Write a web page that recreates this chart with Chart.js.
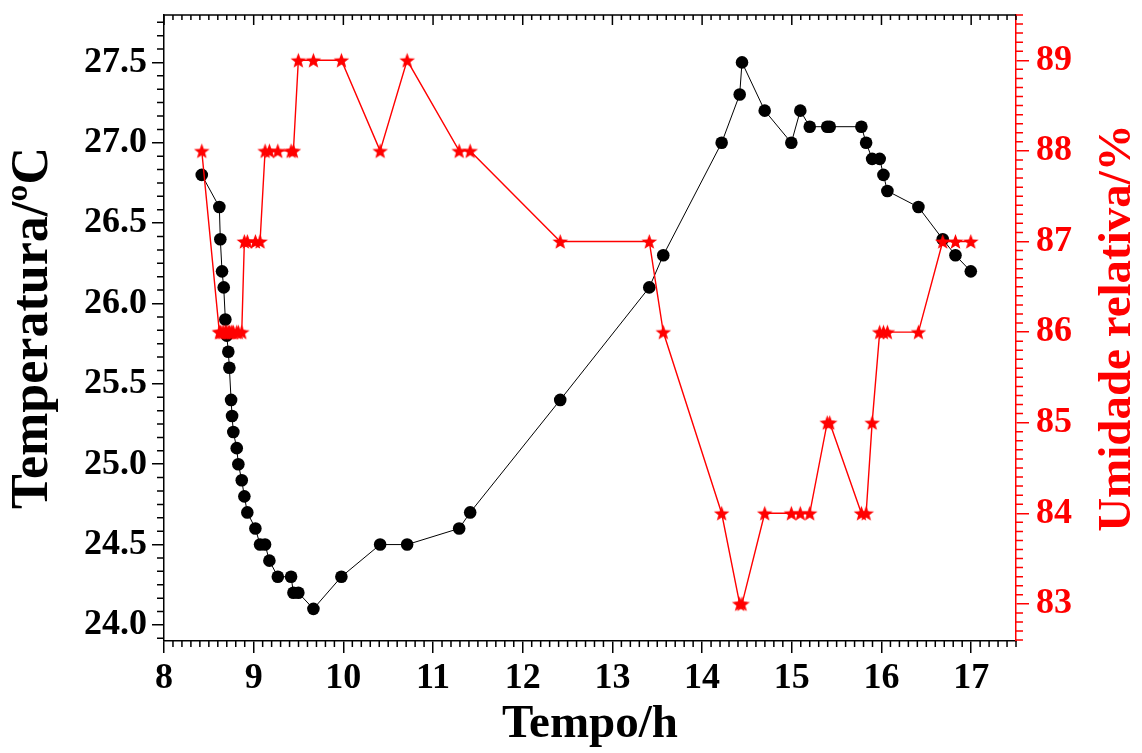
<!DOCTYPE html>
<html><head><meta charset="utf-8">
<script src="https://cdn.jsdelivr.net/npm/chart.js@4.4.1/dist/chart.umd.min.js"></script>
<style>html,body{margin:0;padding:0;background:#fff}canvas{display:block}</style>
</head><body>
<canvas id="c" width="1142" height="753"></canvas>
<script>
// ---- data ----
const timeH = [8.421, 8.617, 8.628, 8.647, 8.666, 8.684, 8.700, 8.717, 8.729, 8.748,
  8.759, 8.773, 8.811, 8.829, 8.867, 8.896, 8.929, 9.019, 9.071, 9.127,
  9.175, 9.269, 9.417, 9.443, 9.498, 9.666, 9.978, 10.41, 10.711, 11.291,
  11.414, 12.418, 13.411, 13.567, 14.218, 14.419, 14.445, 14.698, 14.995, 15.095,
  15.200, 15.395, 15.423, 15.776, 15.829, 15.896, 15.980, 16.022, 16.066, 16.412,
  16.683, 16.825, 16.996];
const temperature = [26.8, 26.6, 26.4, 26.2, 26.1, 25.9, 25.8, 25.7, 25.6, 25.4,
  25.3, 25.2, 25.1, 25.0, 24.9, 24.8, 24.7, 24.6, 24.5, 24.5,
  24.4, 24.3, 24.3, 24.2, 24.2, 24.1, 24.3, 24.5, 24.5, 24.6,
  24.7, 25.4, 26.1, 26.3, 27.0, 27.3, 27.5, 27.2, 27.0, 27.2,
  27.1, 27.1, 27.1, 27.1, 27.0, 26.9, 26.9, 26.8, 26.7, 26.6,
  26.4, 26.3, 26.2];
const humidity = [88, 86, 86, 86, 86, 86, 86, 86, 86, 86,
  86, 86, 86, 86, 86, 87, 87, 87, 87, 88,
  88, 88, 88, 88, 89, 89, 89, 88, 89, 88,
  88, 87, 87, 86, 84, 83, 83, 84, 84, 84,
  84, 85, 85, 84, 84, 85, 86, 86, 86, 86,
  87, 87, 87];
const xTickValues = [8, 9, 10, 11, 12, 13, 14, 15, 16, 17];
const tempTickValues = [24.0, 24.5, 25.0, 25.5, 26.0, 26.5, 27.0, 27.5];
const rhTickValues = [83, 84, 85, 86, 87, 88, 89];
const xTitle = 'Tempo/h';
const yTitle = 'Temperatura/\u00BAC';
const y1Title = 'Umidade relativa/%';

// ---- styling ----
const FAM = "'Liberation Serif','Times New Roman',serif";
const RED = '#ff0000';

function makeStar(size, color) {
  const c = document.createElement('canvas');
  c.width = c.height = size;
  const g = c.getContext('2d');
  const cx = size / 2, cy = size / 2 + 0.7, R = size / 2 - 0.3, r = R * 0.42;
  g.beginPath();
  for (let i = 0; i < 10; i++) {
    const ang = -Math.PI / 2 + i * Math.PI / 5;
    const rad = i % 2 ? r : R;
    g.lineTo(cx + rad * Math.cos(ang), cy + rad * Math.sin(ang));
  }
  g.closePath();
  g.fillStyle = color;
  g.fill();
  return c;
}
const starImg = makeStar(17, RED);

function ticksFrom(arr) { return s => { s.ticks = arr.map(v => ({ value: v })); }; }
function fitBox(w, h) {
  return s => {
    if (w != null) s.width = w;
    if (h != null) s.height = h;
    s.paddingTop = 0; s.paddingBottom = 0; s.paddingLeft = 0; s.paddingRight = 0;
  };
}

const framePlugin = {
  id: 'frame',
  afterDraw(chart) {
    const { ctx, chartArea: a, scales } = chart;
    ctx.save();
    ctx.lineWidth = 1.5;
    const loop = (scale, step, n, fn) => {
      const k0 = Math.ceil(scale.min / step - 1e-6), k1 = Math.floor(scale.max / step + 1e-6);
      for (let k = k0; k <= k1; k++) fn(scale.getPixelForValue(k * step), k % n === 0);
    };
    ctx.strokeStyle = '#000';
    ctx.beginPath();
    loop(scales.x, 0.1, 10, (p, major) => { if (!major) { ctx.moveTo(p, a.bottom); ctx.lineTo(p, a.bottom + 6); } });
    ctx.moveTo(a.left, a.top); ctx.lineTo(a.right, a.top);
    loop(scales.x, 0.1, 10, (p, major) => { ctx.moveTo(p, a.top); ctx.lineTo(p, a.top + (major ? 10 : 5)); });
    loop(scales.y, 0.5 / 6, 6, (p, major) => { if (!major) { ctx.moveTo(a.left - 7, p); ctx.lineTo(a.left, p); } });
    ctx.stroke();
    ctx.strokeStyle = RED;
    ctx.beginPath();
    loop(scales.y1, 0.1, 10, (p, major) => { if (!major) { ctx.moveTo(a.right, p); ctx.lineTo(a.right + 7, p); } });
    ctx.stroke();
    ctx.translate(scales.y1.right - 24, (a.top + a.bottom) / 2);
    ctx.rotate(-Math.PI / 2);
    ctx.font = 'bold 47px ' + FAM;
    ctx.fillStyle = RED;
    ctx.textAlign = 'center';
    ctx.textBaseline = 'middle';
    ctx.fillText(y1Title, 0, 0);
    ctx.restore();
  }
};

const tickFont = { family: FAM, size: 36, weight: 'bold' };

new Chart(document.getElementById('c'), {
  type: 'line',
  data: {
    datasets: [
      {
        label: yTitle,
        data: timeH.map((t, i) => ({ x: t, y: temperature[i] })),
        yAxisID: 'y',
        borderColor: '#000',
        borderWidth: 1,
        pointStyle: 'circle',
        pointRadius: 6.3,
        pointBackgroundColor: '#000',
        pointBorderColor: '#000',
        pointBorderWidth: 0,
        tension: 0,
        order: 2
      },
      {
        label: y1Title,
        data: timeH.map((t, i) => ({ x: t, y: humidity[i] })),
        yAxisID: 'y1',
        borderColor: RED,
        borderWidth: 1.4,
        pointStyle: starImg,
        tension: 0,
        order: 1
      }
    ]
  },
  options: {
    responsive: false,
    animation: false,
    events: [],
    layout: { padding: { top: 15, left: 0, right: 0, bottom: 0 } },
    plugins: { legend: { display: false }, tooltip: { enabled: false } },
    scales: {
      x: {
        type: 'linear', position: 'bottom', min: 8, max: 17.5,
        afterBuildTicks: ticksFrom(xTickValues),
        afterFit: fitBox(null, 112),
        ticks: { color: '#000', font: tickFont, padding: 4, autoSkip: false, maxRotation: 0, callback: v => String(v) },
        grid: { drawOnChartArea: false, tickLength: 12, color: '#000', lineWidth: 1.5 },
        border: { color: '#000', width: 1.5 },
        title: { display: true, text: xTitle, color: '#000', font: { family: FAM, size: 47, weight: 'bold' }, padding: { top: 0, bottom: 0 } }
      },
      y: {
        type: 'linear', position: 'left', min: 23.9, max: 27.795,
        afterBuildTicks: ticksFrom(tempTickValues),
        afterFit: fitBox(164, null),
        ticks: { color: '#000', font: tickFont, padding: 5, autoSkip: false, callback: v => v.toFixed(1) },
        grid: { drawOnChartArea: false, tickLength: 12, color: '#000', lineWidth: 1.5 },
        border: { color: '#000', width: 1.5 },
        title: { display: true, text: yTitle, color: '#000', font: { family: FAM, size: 52, weight: 'bold' }, padding: { top: 2, bottom: 0 } }
      },
      y1: {
        type: 'linear', position: 'right', min: 82.59, max: 89.5,
        afterBuildTicks: ticksFrom(rhTickValues),
        afterFit: fitBox(126, null),
        ticks: { color: RED, font: tickFont, padding: 7, autoSkip: false, callback: v => String(v) },
        grid: { drawOnChartArea: false, tickLength: 13, color: RED, lineWidth: 1.5 },
        border: { color: RED, width: 1.5 },
        title: { display: false }
      }
    }
  },
  plugins: [framePlugin]
});
</script>
</body></html>
